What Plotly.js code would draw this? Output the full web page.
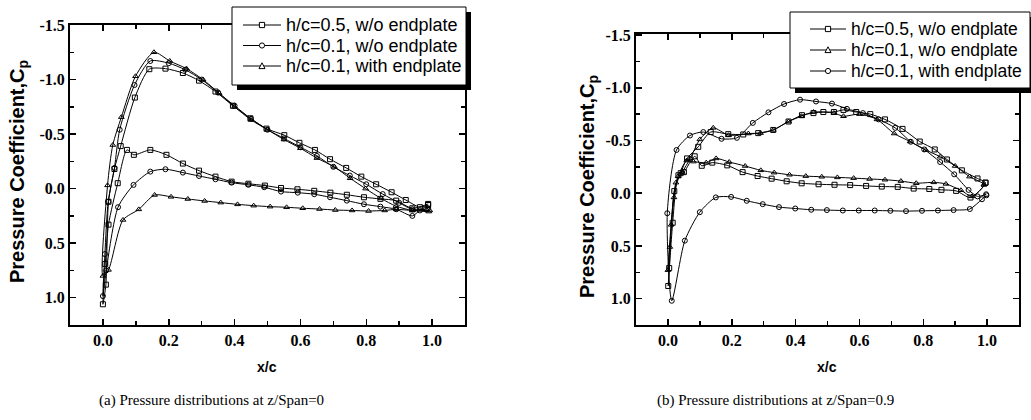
<!DOCTYPE html>
<html><head><meta charset="utf-8">
<script src="https://cdn.plot.ly/plotly-3.0.1.min.js"></script>
<style>html,body{margin:0;padding:0;background:#fff}#chart{width:1031px;height:420px}</style>
</head><body><div id="chart"></div>
<script>
// ---------- data: panel (a) z/Span=0 ----------
const seriesNamesA = ["h/c=0.5, w/o endplate", "h/c=0.1, w/o endplate", "h/c=0.1, with endplate"];
const aSquareX = [0.988,0.94,0.891,0.843,0.793,0.741,0.691,0.642,0.591,0.541,0.492,0.442,0.391,0.342,0.292,0.243,0.193,0.144,0.094,0.073,0.045,0.017,0.007,0,
                  0.009,0.017,0.035,0.054,0.097,0.141,0.19,0.243,0.292,0.342,0.395,0.448,0.497,0.551,0.597,0.644,0.69,0.739,0.785,0.83,0.877,0.92,0.963,0.988];
const aSquareY = [0.14,0.18,0.11,0.094,0.079,0.056,0.037,0.02,0.006,-0.006,-0.028,-0.045,-0.064,-0.11,-0.165,-0.23,-0.31,-0.355,-0.31,-0.355,-0.05,0.33,0.69,1.06,
                  0.88,0.12,-0.18,-0.39,-0.835,-1.095,-1.10,-1.06,-0.99,-0.89,-0.76,-0.645,-0.55,-0.49,-0.42,-0.355,-0.27,-0.19,-0.11,-0.04,0.033,0.104,0.17,0.15];
const aCircleX = [0.988,0.963,0.94,0.891,0.843,0.793,0.741,0.69,0.642,0.592,0.541,0.49,0.442,0.391,0.342,0.292,0.243,0.19,0.144,0.093,0.046,0.01,0,
                  0.006,0.016,0.035,0.051,0.096,0.144,0.2,0.25,0.3,0.35,0.4,0.45,0.5,0.55,0.6,0.65,0.7,0.75,0.8,0.85,0.9,0.94,0.98];
const aCircleY = [0.18,0.2,0.25,0.189,0.165,0.143,0.11,0.079,0.051,0.037,0.027,-0.013,-0.035,-0.055,-0.086,-0.116,-0.147,-0.178,-0.156,-0.034,0.17,0.75,0.985,
                  0.6,0.12,-0.19,-0.54,-0.95,-1.17,-1.15,-1.09,-1.0,-0.88,-0.76,-0.64,-0.54,-0.46,-0.38,-0.3,-0.2,-0.12,-0.04,0.05,0.13,0.19,0.19];
const aTriangleX = [0.993,0.94,0.891,0.856,0.807,0.757,0.706,0.658,0.607,0.558,0.508,0.458,0.409,0.358,0.309,0.258,0.207,0.157,0.109,0.061,0.017,0,
                    0.014,0.03,0.056,0.099,0.155,0.203,0.254,0.304,0.353,0.4,0.45,0.5,0.55,0.6,0.65,0.703,0.751,0.798,0.845,0.89,0.94,0.99];
const aTriangleY = [0.2,0.2,0.19,0.2,0.205,0.2,0.196,0.187,0.18,0.171,0.165,0.156,0.144,0.128,0.113,0.095,0.075,0.058,0.19,0.287,0.745,0.8,
                    -0.03,-0.4,-0.655,-1.03,-1.25,-1.17,-1.1,-1.0,-0.875,-0.75,-0.63,-0.54,-0.45,-0.37,-0.28,-0.2,-0.095,0.0,0.09,0.16,0.2,0.21];

// ---------- data: panel (b) z/Span=0.9 ----------
const seriesNamesB = ["h/c=0.5, w/o endplate", "h/c=0.1, w/o endplate", "h/c=0.1, with endplate"];
const bSquareX = [0.995,0.948,0.903,0.857,0.819,0.77,0.72,0.67,0.621,0.571,0.522,0.472,0.419,0.372,0.325,0.281,0.234,0.186,0.139,0.106,0.084,0.05,0.033,0.015,0.001,
                  0.004,0.02,0.04,0.06,0.095,0.134,0.189,0.236,0.283,0.33,0.378,0.42,0.456,0.487,0.52,0.55,0.59,0.634,0.68,0.735,0.789,0.836,0.874,0.921,0.97,0.995];
const bSquareY = [-0.1,0.041,-0.022,-0.032,-0.04,-0.044,-0.06,-0.063,-0.069,-0.077,-0.08,-0.085,-0.094,-0.113,-0.138,-0.163,-0.2,-0.264,-0.29,-0.26,-0.35,-0.2,-0.17,0.28,0.88,
                  0.71,-0.02,-0.19,-0.33,-0.44,-0.58,-0.56,-0.557,-0.57,-0.6,-0.68,-0.74,-0.76,-0.77,-0.77,-0.79,-0.77,-0.75,-0.70,-0.61,-0.49,-0.415,-0.32,-0.217,-0.14,-0.1];
const bTriangleX = [0.99,0.953,0.918,0.871,0.833,0.778,0.73,0.68,0.632,0.582,0.531,0.482,0.432,0.381,0.333,0.291,0.242,0.192,0.151,0.12,0.08,0.059,0.032,0.019,0.006,0,
                    0.01,0.025,0.045,0.07,0.1,0.142,0.19,0.252,0.29,0.33,0.378,0.418,0.456,0.52,0.55,0.6,0.655,0.709,0.759,0.808,0.853,0.9,0.945,0.99];
const bTriangleY = [-0.08,0.03,-0.028,-0.088,-0.103,-0.095,-0.115,-0.128,-0.135,-0.143,-0.15,-0.156,-0.162,-0.175,-0.195,-0.217,-0.258,-0.296,-0.33,-0.29,-0.3,-0.31,-0.16,0.04,0.51,0.73,
                    0.3,-0.1,-0.2,-0.33,-0.51,-0.62,-0.55,-0.566,-0.57,-0.6,-0.68,-0.73,-0.77,-0.76,-0.73,-0.75,-0.70,-0.566,-0.49,-0.41,-0.346,-0.258,-0.157,-0.08];
const bCircleX = [0.998,0.984,0.946,0.895,0.846,0.796,0.746,0.697,0.648,0.598,0.548,0.498,0.449,0.399,0.348,0.297,0.247,0.198,0.15,0.1,0.053,0.012,
                  -0.002,0.027,0.069,0.111,0.168,0.216,0.266,0.315,0.364,0.414,0.464,0.514,0.561,0.611,0.66,0.712,0.761,0.803,0.853,0.897,0.942,0.97,0.997];
const bCircleY = [0.02,0.057,0.15,0.16,0.164,0.167,0.17,0.167,0.164,0.164,0.164,0.16,0.157,0.145,0.132,0.104,0.072,0.035,0.04,0.18,0.45,1.02,
                  0.19,-0.41,-0.547,-0.58,-0.516,-0.525,-0.667,-0.767,-0.846,-0.887,-0.87,-0.85,-0.8,-0.76,-0.70,-0.62,-0.488,-0.415,-0.296,-0.179,-0.031,0.03,0.01];

// ---------- ticks & text ----------
const xTickVals = [0, 0.2, 0.4, 0.6, 0.8, 1.0];
const xTickText = ["0.0", "0.2", "0.4", "0.6", "0.8", "1.0"];
const yTickVals = [-1.5, -1.0, -0.5, 0, 0.5, 1.0];
const yTickText = ["-1.5", "-1.0", "-0.5", "0.0", "0.5", "1.0"];
const captionA = "(a) Pressure distributions at z/Span=0";
const captionB = "(b) Pressure distributions at z/Span=0.9";
const yTitle = "Pressure Coefficient,C<sub>p</sub>";
const xTitle = "x/c";

// ---------- layout helpers ----------
const W = 1031, H = 420;
const px = v => v / W, py = v => 1 - v / H;
const PA = {x0:70, x1:465, y0:25, y1:325};
const PB = {x0:636, x1:1019, y0:34, y1:325};
const tickFont = {family:"Liberation Serif", size:16, color:"#000", weight:"bold"};

function xAxis(P, anchor){
  return {domain:[px(P.x0), px(P.x1)], anchor:anchor, range:[-0.1, 1.1], autorange:false,
    tickmode:"array", tickvals:xTickVals, ticktext:xTickText, ticks:"inside", ticklen:6, tickwidth:1.5,
    tickcolor:"#000", showline:true, linewidth:2, linecolor:"#000", mirror:"ticks",
    showgrid:false, zeroline:false, tickfont:tickFont,
    minor:{tickmode:"linear", tick0:0, dtick:0.1, ticks:"inside", ticklen:4, tickwidth:1.5, tickcolor:"#000", showgrid:false}};
}
function yAxis(P, anchor, top){
  return {domain:[py(P.y1), py(P.y0)], anchor:anchor, range:[1.25, top], autorange:false,
    tickmode:"array", tickvals:yTickVals, ticktext:yTickText, ticks:"inside", ticklen:6, tickwidth:1.5,
    tickcolor:"#000", showline:true, linewidth:2, linecolor:"#000", mirror:"ticks",
    showgrid:false, zeroline:false, tickfont:tickFont,
    minor:{tickmode:"linear", tick0:0, dtick:0.25, ticks:"inside", ticklen:4, tickwidth:1.5, tickcolor:"#000", showgrid:false}};
}
function trace(x, y, name, sym, xa, ya){
  return {x:x, y:y, name:name, xaxis:xa, yaxis:ya, type:"scatter", mode:"lines+markers", showlegend:false,
    line:{color:"#000", width:1, shape:"spline", smoothing:0.7},
    marker:{symbol:sym, size:5, color:"#000", line:{color:"#000", width:1}}};
}

const data = [
  trace(aSquareX, aSquareY, seriesNamesA[0], "square-open", "x", "y"),
  trace(aCircleX, aCircleY, seriesNamesA[1], "circle-open", "x", "y"),
  trace(aTriangleX, aTriangleY, seriesNamesA[2], "triangle-up-open", "x", "y"),
  trace(bSquareX, bSquareY, seriesNamesB[0], "square-open", "x2", "y2"),
  trace(bTriangleX, bTriangleY, seriesNamesB[1], "triangle-up-open", "x2", "y2"),
  trace(bCircleX, bCircleY, seriesNamesB[2], "circle-open", "x2", "y2")
];

const ann = (text, x, y, opts) => Object.assign({text:text, x:x, y:y, xref:"paper", yref:"paper", showarrow:false,
  xanchor:"center", yanchor:"middle"}, opts || {});
const titleFont = {family:"Liberation Sans", size:20, color:"#000", weight:"bold"};
const xtFont = {family:"Liberation Sans", size:14, color:"#000", weight:"bold"};
const capFont = {family:"Liberation Serif", size:15, color:"#000"};

const shapes = [];
const annotations = [
  ann(yTitle, px(18), py(172), {textangle:-90, font:titleFont}),
  ann(yTitle, px(588), py(187), {textangle:-90, font:titleFont}),
  ann(xTitle, px(267), py(367), {font:xtFont}),
  ann(xTitle, px(827), py(367), {font:xtFont}),
  ann(captionA, px(211), py(400), {font:capFont}),
  ann(captionB, px(775), py(400), {font:capFont})
];

// framed legend with drop shadow, one per panel (built from the traces)
function addLegend(box, rows, lineX0, lineX1, textX, traces, fontSize){
  const P = {xref:"paper", yref:"paper"};
  const legFont = {family:"Liberation Sans", size:fontSize, color:"#000"};
  shapes.push(Object.assign({type:"rect", x0:px(box.l + 5), x1:px(box.r + 5), y0:py(box.b + 5), y1:py(box.t + 5),
    fillcolor:"#000", line:{width:0}, layer:"above"}, P));
  shapes.push(Object.assign({type:"rect", x0:px(box.l), x1:px(box.r), y0:py(box.b), y1:py(box.t),
    fillcolor:"#fff", line:{color:"#000", width:1}, layer:"above"}, P));
  traces.forEach(function(tr, i){
    const yc = rows[i], mx = (lineX0 + lineX1) / 2, s = 2.6;
    shapes.push(Object.assign({type:"line", x0:px(lineX0), x1:px(lineX1), y0:py(yc), y1:py(yc),
      line:{color:"#000", width:1}, layer:"above"}, P));
    const sym = tr.marker.symbol;
    const mk = {fillcolor:"#fff", line:{color:"#000", width:1}, layer:"above"};
    if (sym.indexOf("square") === 0) {
      shapes.push(Object.assign({type:"rect", x0:px(mx - s), x1:px(mx + s), y0:py(yc + s), y1:py(yc - s)}, mk, P));
    } else if (sym.indexOf("circle") === 0) {
      shapes.push(Object.assign({type:"circle", x0:px(mx - s), x1:px(mx + s), y0:py(yc + s), y1:py(yc - s)}, mk, P));
    } else {
      const d = "M " + px(mx - s - 0.4) + " " + py(yc + s) + " L " + px(mx + s + 0.4) + " " + py(yc + s) +
                " L " + px(mx) + " " + py(yc - s - 0.6) + " Z";
      shapes.push(Object.assign({type:"path", path:d}, mk, P));
    }
    annotations.push(ann(tr.name, px(textX), py(yc), {xanchor:"left", font:legFont}));
  });
}
addLegend({l:232, r:466, t:7, b:85}, [25, 45.5, 66], 243, 281, 284, data.slice(0, 3), 18);
addLegend({l:790, r:1030, t:12, b:88}, [29, 50, 71], 810, 846, 849, data.slice(3, 6), 17.5);

const layout = {
  width:W, height:H, autosize:false, margin:{l:0, r:0, t:0, b:0},
  paper_bgcolor:"#fff", plot_bgcolor:"#fff", showlegend:false,
  xaxis: xAxis(PA, "y"), yaxis: yAxis(PA, "x", -1.5),
  xaxis2: xAxis(PB, "y2"), yaxis2: yAxis(PB, "x2", -1.51),
  shapes: shapes,
  annotations: annotations
};

Plotly.newPlot("chart", data, layout, {displayModeBar:false, staticPlot:true});
</script></body></html>
